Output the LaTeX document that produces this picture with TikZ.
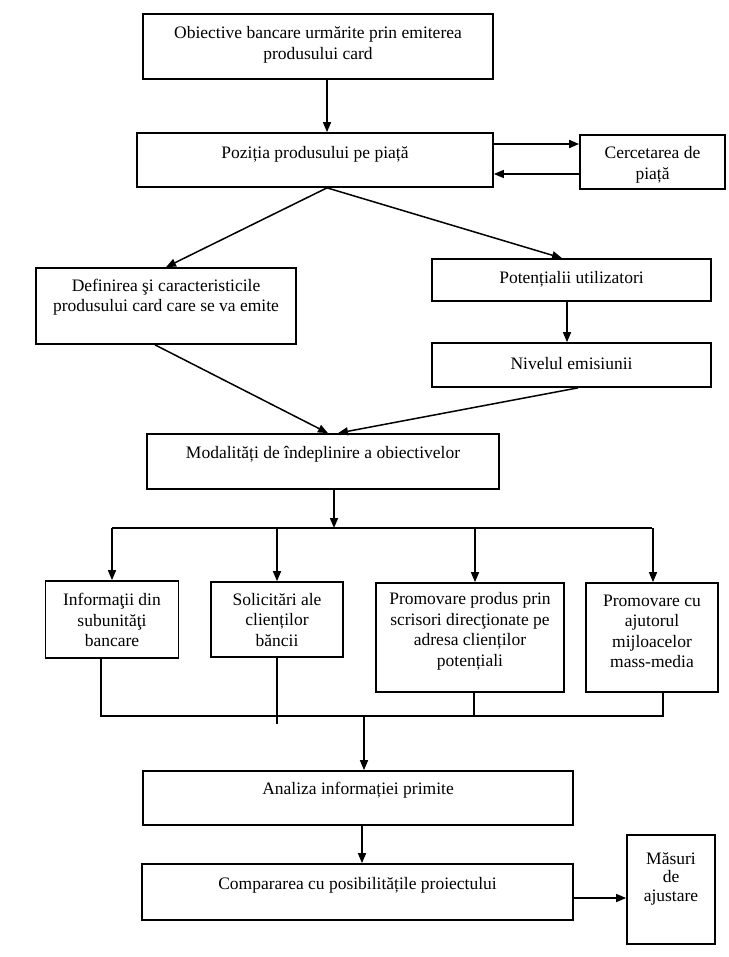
\documentclass[tikz,border=0pt]{standalone}
\usepackage{fontspec}
\setmainfont{Liberation Serif}
\usetikzlibrary{arrows.meta}
\begin{document}
\begin{tikzpicture}[x=1pt,y=-1pt,
  box/.style={draw, line width=1.7pt, inner sep=0pt},
  txt/.style={font=\fontsize{17.5}{20.5}\selectfont, align=center, inner sep=0pt},
  ln/.style={line width=1.5pt},
  arr/.style={line width=1.5pt, -{Triangle[length=10pt,width=8pt]}}]
\useasboundingbox (0,0) rectangle (728,957);
\fill[white] (0,0) rectangle (728,957);
% boxes
\node[box, minimum width=350, minimum height=65] (b1) at (318,46.5) {};
\node[txt] (t1) at (318,45) {Obiective bancare urmărite prin emiterea\\produsului card};
\node[box, minimum width=356, minimum height=54] (b2) at (315,160) {};
\node[txt] (t2) at (315,154) {Poziția produsului pe piață};
\node[box, minimum width=145, minimum height=54] (cr) at (652.5,162) {};
\node[txt] (tcr) at (652.5,165) {Cercetarea de\\piață};
\node[box, minimum width=260, minimum height=76] (d) at (166,306) {};
\node[txt] (td) at (166,297) {Definirea şi caracteristicile\\produsului card care se va emite};
\node[box, minimum width=279, minimum height=42] (p) at (571.5,280) {};
\node[txt] (tp) at (571.5,279) {Potențialii utilizatori};
\node[box, minimum width=279, minimum height=44] (n) at (571.5,365) {};
\node[txt] (tn) at (571.5,364) {Nivelul emisiunii};
\node[box, minimum width=352, minimum height=55] (m) at (323,461.5) {};
\node[txt] (tm) at (323,454) {Modalități de îndeplinire a obiectivelor};
\node[box, minimum width=133, minimum height=77] (i1) at (112,619.5) {};
\node[txt] (ti1) at (112,620) {Informaţii din\\subunităţi\\bancare};
\node[box, minimum width=132, minimum height=75] (i2) at (277,619.5) {};
\node[txt] (ti2) at (277,620) {Solicitări ale\\clienților\\băncii};
\node[box, minimum width=188, minimum height=109] (i3) at (470,637.5) {};
\node[txt] (ti3) at (470,631.5) {Promovare produs prin\\scrisori direcţionate pe\\adresa clienților\\potențiali};
\node[box, minimum width=132, minimum height=109] (i4) at (652,637.5) {};
\node[txt] (ti4) at (652,631.5) {Promovare cu\\ajutorul\\mijloacelor\\mass-media};
\node[box, minimum width=430, minimum height=54] (a1) at (358,798) {};
\node[txt] (ta1) at (358,790) {Analiza informației primite};
\node[box, minimum width=431, minimum height=56] (c2) at (357.5,892) {};
\node[txt] (tc2) at (357.5,885) {Compararea cu posibilitățile proiectului};
\node[box, minimum width=88, minimum height=109] (ms) at (671,889.5) {};
\node[txt, font=\fontsize{17.5}{18.5}\selectfont] (tms) at (671,878.5) {Măsuri\\de\\ajustare};
% connectors
\coordinate (q1) at ([xshift=9pt]b1.south);
\draw[arr] (q1) -- (q1 |- b2.north);
\coordinate (r1) at ([yshift=16pt]b2.east);
\draw[arr] (r1) -- (r1 -| cr.west);
\coordinate (r2) at ([yshift=-12pt]cr.west);
\draw[arr] (r2) -- (r2 -| b2.east);
\coordinate (apex) at ([xshift=12pt]b2.south);
\draw[arr] (apex) -- (d.north);
\draw[arr] (apex) -- ([xshift=-9.5pt]p.north);
\draw[arr] ([xshift=-4.5pt]p.south) -- ([xshift=-4.5pt]n.north);
\draw[arr] ([xshift=-11pt]d.south) -- ([xshift=5pt]m.north);
\draw[arr] ([xshift=6.5pt]n.south) -- ([xshift=15pt]m.north);
\coordinate (ja) at (334,528);
\draw[arr] (ja |- m.south) -- (ja);
\draw[ln] (ja -| i1.north) -- (ja -| i4.north);
\draw[arr] (ja -| i1.north) -- (i1.north);
\draw[arr] (ja -| i2.north) -- (i2.north);
\coordinate (k3) at ([xshift=5pt]i3.north);
\draw[arr] (ja -| k3) -- (k3);
\coordinate (k4) at ([xshift=1pt]i4.north);
\draw[arr] (ja -| k4) -- (k4);
\coordinate (jb) at (364,716);
\coordinate (s1) at ([xshift=-11pt]i1.south);
\coordinate (s3) at ([xshift=4pt]i3.south);
\coordinate (s4) at ([xshift=11pt]i4.south);
\draw[ln] (s1) |- (jb) -| (s4);
\draw[ln] (s3) -- (s3 |- jb);
\draw[ln] (i2.south) -- ++(0,66);
\draw[arr] (jb) -- (jb |- a1.north);
\coordinate (q2) at ([xshift=4pt]a1.south);
\draw[arr] (q2) -- (q2 |- c2.north);
\coordinate (q3) at ([yshift=-6pt]c2.east);
\draw[arr] (q3) -- (q3 -| ms.west);
\end{tikzpicture}
\end{document}
